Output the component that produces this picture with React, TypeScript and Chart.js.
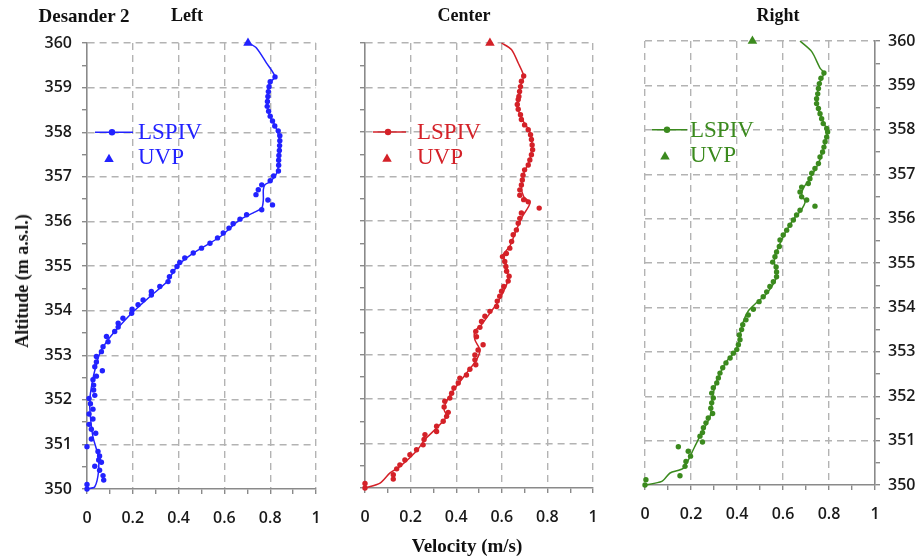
import React, { useEffect, useRef } from 'react';
import { Chart, registerables } from 'chart.js';

Chart.register(...registerables);

// ---------- DATA (velocity m/s, altitude m a.s.l.) ----------
// LEFT
const leftDotAlt = [359.24, 359.13, 359.02, 358.91, 358.8, 358.69, 358.58, 358.47, 358.36, 358.25, 358.14, 358.03, 357.92, 357.81, 357.7, 357.59, 357.48, 357.37, 357.26, 357.13, 357.02, 356.91, 356.82, 356.71, 356.6, 356.48, 356.37, 356.26, 356.15, 356.05, 355.95, 355.85, 355.74, 355.63, 355.51, 355.4, 355.29, 355.18, 355.08, 354.99, 354.88, 354.76, 354.65, 354.54, 354.43, 354.35, 354.24, 354.13, 354.03, 353.94, 353.83, 353.72, 353.63, 353.53, 353.42, 353.3, 353.19, 353.08, 352.97, 352.85, 352.74, 352.65, 352.53, 352.45, 352.33, 352.22, 352.1, 352.03, 351.91, 351.79, 351.68, 351.57, 351.45, 351.34, 351.25, 351.12, 350.95, 350.84, 350.74, 350.65, 350.6, 350.51, 350.42, 350.3, 350.2, 350.1, 350.0];
const leftDotV = [0.821, 0.8, 0.795, 0.792, 0.79, 0.788, 0.787, 0.793, 0.8, 0.81, 0.82, 0.835, 0.842, 0.842, 0.841, 0.84, 0.838, 0.837, 0.837, 0.836, 0.815, 0.8, 0.763, 0.748, 0.738, 0.79, 0.81, 0.763, 0.697, 0.668, 0.638, 0.62, 0.595, 0.57, 0.537, 0.5, 0.464, 0.427, 0.405, 0.393, 0.375, 0.36, 0.354, 0.318, 0.281, 0.281, 0.245, 0.223, 0.197, 0.195, 0.157, 0.136, 0.136, 0.121, 0.085, 0.092, 0.07, 0.063, 0.041, 0.041, 0.034, 0.067, 0.041, 0.026, 0.029, 0.029, 0.034, 0.009, 0.015, 0.026, 0.009, 0.026, 0.009, 0.019, 0.038, 0.019, 0.0, 0.048, 0.055, 0.051, 0.063, 0.034, 0.055, 0.07, 0.073, 0.0, 0.0];
const leftLineAlt = [360, 359.89, 359.55, 359.24, 359.1, 358.66, 358.38, 358.2, 358.02, 357.84, 357.4, 357.08, 356.89, 356.82, 356.71, 356.48, 356.3, 356.19, 356.04, 355.65, 355.29, 354.99, 354.65, 354.31, 353.94, 353.57, 353.3, 353.04, 352.74, 352.37, 351.99, 351.62, 351.17, 350.76, 350.42, 350.05, 350];
const leftLineV = [0.707, 0.74, 0.784, 0.821, 0.797, 0.787, 0.797, 0.816, 0.831, 0.84, 0.84, 0.828, 0.8, 0.777, 0.77, 0.77, 0.763, 0.726, 0.668, 0.58, 0.464, 0.393, 0.35, 0.274, 0.195, 0.128, 0.085, 0.056, 0.038, 0.022, 0.012, 0.015, 0.026, 0.048, 0.051, 0.034, 0];
const leftUvpAlt = [360];
const leftUvpV = [0.703];

// CENTER
const centerDotAlt = [359.26, 359.14, 359.02, 358.91, 358.8, 358.73, 358.62, 358.51, 358.39, 358.28, 358.16, 358.05, 357.94, 357.83, 357.71, 357.6, 357.49, 357.37, 357.26, 357.15, 357.03, 356.92, 356.81, 356.7, 356.58, 356.48, 356.43, 356.29, 356.18, 356.06, 355.95, 355.8, 355.69, 355.54, 355.39, 355.27, 355.2, 355.09, 354.98, 354.87, 354.76, 354.65, 354.53, 354.42, 354.31, 354.2, 354.08, 353.97, 353.86, 353.74, 353.61, 353.52, 353.4, 353.22, 353.1, 352.99, 352.88, 352.77, 352.67, 352.54, 352.47, 352.36, 352.25, 352.13, 352.02, 351.95, 351.82, 351.7, 351.61, 351.5, 351.39, 351.27, 351.2, 351.09, 350.97, 350.86, 350.75, 350.63, 350.52, 350.43, 350.3, 350.2, 350.1, 350.0];
const centerDotV = [0.696, 0.686, 0.682, 0.678, 0.675, 0.672, 0.668, 0.672, 0.682, 0.686, 0.7, 0.716, 0.726, 0.73, 0.733, 0.735, 0.73, 0.723, 0.716, 0.7, 0.693, 0.69, 0.686, 0.679, 0.679, 0.696, 0.716, 0.764, 0.686, 0.679, 0.672, 0.664, 0.65, 0.643, 0.635, 0.62, 0.603, 0.613, 0.618, 0.621, 0.632, 0.628, 0.609, 0.599, 0.591, 0.58, 0.577, 0.548, 0.526, 0.511, 0.504, 0.486, 0.489, 0.518, 0.496, 0.482, 0.482, 0.486, 0.46, 0.445, 0.416, 0.409, 0.39, 0.38, 0.372, 0.35, 0.347, 0.365, 0.358, 0.343, 0.314, 0.314, 0.263, 0.259, 0.255, 0.226, 0.197, 0.175, 0.153, 0.139, 0.124, 0.124, 0.0, 0.0];
const centerLineAlt = [360, 359.85, 359.55, 359.26, 359.1, 358.8, 358.51, 358.28, 358.0, 357.7, 357.37, 357.07, 356.77, 356.55, 356.4, 356.1, 355.8, 355.43, 355.24, 355.05, 354.75, 354.57, 354.2, 353.93, 353.67, 353.52, 353.33, 353.1, 352.88, 352.58, 352.28, 351.95, 351.76, 351.61, 351.35, 351.09, 350.83, 350.48, 350.34, 350.11, 350];
const centerLineV = [0.599, 0.643, 0.672, 0.696, 0.686, 0.676, 0.672, 0.69, 0.723, 0.733, 0.723, 0.696, 0.686, 0.696, 0.723, 0.69, 0.664, 0.635, 0.606, 0.618, 0.628, 0.621, 0.585, 0.548, 0.511, 0.482, 0.482, 0.504, 0.489, 0.445, 0.4, 0.358, 0.347, 0.358, 0.314, 0.263, 0.226, 0.153, 0.11, 0.066, 0];
const centerUvpAlt = [360];
const centerUvpV = [0.548];

// RIGHT
const rightDotAlt = [359.28, 359.16, 359.04, 358.93, 358.81, 358.7, 358.59, 358.48, 358.36, 358.25, 358.14, 358.03, 357.95, 357.84, 357.73, 357.61, 357.5, 357.39, 357.24, 357.13, 357.02, 356.9, 356.79, 356.71, 356.6, 356.49, 356.42, 356.28, 356.19, 356.08, 355.97, 355.85, 355.74, 355.63, 355.52, 355.37, 355.25, 355.14, 355.02, 354.91, 354.8, 354.69, 354.58, 354.47, 354.35, 354.24, 354.13, 353.96, 353.83, 353.72, 353.61, 353.5, 353.38, 353.27, 353.16, 353.05, 352.97, 352.86, 352.75, 352.64, 352.52, 352.41, 352.3, 352.19, 352.07, 351.96, 351.85, 351.73, 351.61, 351.51, 351.4, 351.29, 351.18, 351.1, 350.97, 350.86, 350.76, 350.65, 350.53, 350.42, 350.21, 350.12, 350.0];
const rightDotV = [0.778, 0.765, 0.758, 0.754, 0.751, 0.746, 0.746, 0.754, 0.761, 0.768, 0.775, 0.79, 0.794, 0.79, 0.783, 0.778, 0.772, 0.761, 0.754, 0.739, 0.725, 0.717, 0.71, 0.681, 0.674, 0.681, 0.703, 0.739, 0.674, 0.659, 0.645, 0.63, 0.616, 0.601, 0.587, 0.584, 0.572, 0.565, 0.555, 0.57, 0.572, 0.572, 0.558, 0.543, 0.529, 0.514, 0.496, 0.471, 0.449, 0.439, 0.425, 0.42, 0.41, 0.413, 0.406, 0.399, 0.384, 0.37, 0.352, 0.338, 0.326, 0.319, 0.312, 0.297, 0.29, 0.297, 0.29, 0.286, 0.294, 0.275, 0.265, 0.254, 0.25, 0.239, 0.25, 0.145, 0.188, 0.198, 0.178, 0.174, 0.152, 0.004, 0.0];
const rightLineAlt = [360, 359.76, 359.39, 359.28, 359.04, 358.74, 358.44, 358.18, 357.95, 357.55, 357.24, 356.9, 356.71, 356.56, 356.37, 356.15, 356.08, 355.74, 355.44, 355.06, 354.69, 354.31, 354.11, 353.92, 353.69, 353.39, 353.05, 352.79, 352.34, 352.0, 351.55, 351.1, 350.85, 350.38, 350.27, 350.08, 350];
const rightLineV = [0.674, 0.725, 0.761, 0.778, 0.758, 0.749, 0.754, 0.775, 0.793, 0.775, 0.754, 0.717, 0.691, 0.681, 0.696, 0.674, 0.659, 0.616, 0.587, 0.562, 0.572, 0.529, 0.486, 0.449, 0.428, 0.413, 0.399, 0.355, 0.312, 0.294, 0.283, 0.239, 0.215, 0.167, 0.109, 0.073, 0];
const rightUvpAlt = [360];
const rightUvpV = [0.467];

// ticks
const yMin = 350;
const yMax = 360;
const xMin = 0;
const xMax = 1;

// ---------- STYLE ----------
const GRID = '#b3b3b3';
const AXIS = '#8a8a8a';
const TICKFONT = { family: '"Open Sans", "Noto Sans", sans-serif', size: 16, weight: '600' as const };
const SERIF = '"Liberation Serif", "Times New Roman", serif';

type PanelCfg = {
  color: string;
  lineV: number[]; lineAlt: number[];
  dotV: number[]; dotAlt: number[];
  uvpV: number[]; uvpAlt: number[];
  padding: { left: number; right: number; top: number; bottom: number };
  yWidth: number; xHeight: number;
  yPos: 'left' | 'right';
  yLabels: boolean;
  xGridAt: (i: number) => boolean;
  legend: { lineStart: number; lineEnd: number; dot: number; tri: number; text: number; dy: number };
};

const zip = (v: number[], a: number[]) => a.map((alt, i) => ({ x: v[i], y: alt }));

function legendPlugin(cfg: PanelCfg) {
  return {
    id: 'customLegend',
    afterDatasetsDraw(chart: any) {
      const ctx = chart.ctx as CanvasRenderingContext2D;
      const L = chart.chartArea.left;
      const lg = cfg.legend;
      const y1 = chart.scales.y.getPixelForValue(358) + lg.dy;
      const y2 = y1 + 26;
      ctx.save();
      ctx.strokeStyle = cfg.color;
      ctx.fillStyle = cfg.color;
      ctx.lineWidth = 1.5;
      ctx.beginPath();
      ctx.moveTo(L + lg.lineStart, y1);
      ctx.lineTo(L + lg.lineEnd, y1);
      ctx.stroke();
      ctx.beginPath();
      ctx.arc(L + lg.dot, y1, 3.2, 0, Math.PI * 2);
      ctx.fill();
      const r = 5.5;
      const tx = L + lg.tri;
      ctx.beginPath();
      for (let k = 0; k < 3; k++) {
        const ang = (k * 2 * Math.PI) / 3;
        const px = tx + Math.sin(ang) * r;
        const py = y2 + 1 - Math.cos(ang) * r;
        if (k === 0) ctx.moveTo(px, py); else ctx.lineTo(px, py);
      }
      ctx.closePath();
      ctx.fill();
      ctx.font = `23px ${SERIF}`;
      ctx.textBaseline = 'middle';
      ctx.textAlign = 'left';
      ctx.fillText('LSPIV', L + lg.text, y1 + 1);
      ctx.fillText('UVP', L + lg.text, y2);
      ctx.restore();
    },
  };
}

function makeChart(canvas: HTMLCanvasElement, cfg: PanelCfg) {
  return new Chart(canvas, {
    type: 'scatter',
    data: {
      datasets: [
        {
          type: 'line',
          data: zip(cfg.lineV, cfg.lineAlt),
          borderColor: cfg.color,
          borderWidth: 1.5,
          pointRadius: 0,
          tension: 0.25,
          fill: false,
          clip: false as any,
        } as any,
        {
          data: zip(cfg.dotV, cfg.dotAlt),
          backgroundColor: cfg.color,
          borderColor: cfg.color,
          borderWidth: 0,
          pointRadius: 2.7,
          showLine: false,
          clip: false as any,
        },
        {
          data: zip(cfg.uvpV, cfg.uvpAlt),
          backgroundColor: cfg.color,
          borderColor: cfg.color,
          borderWidth: 0,
          pointStyle: 'triangle',
          pointRadius: 5.5,
          showLine: false,
          clip: false as any,
        },
      ],
    },
    options: {
      responsive: false,
      animation: false,
      devicePixelRatio: 1,
      events: [],
      layout: { padding: cfg.padding },
      plugins: { legend: { display: false }, tooltip: { enabled: false }, title: { display: false } },
      scales: {
        x: {
          type: 'linear',
          position: 'bottom',
          min: xMin,
          max: xMax,
          afterFit: (s: any) => { s.height = cfg.xHeight; },
          ticks: {
            stepSize: 0.1,
            autoSkip: false,
            maxRotation: 0,
            padding: 15,
            color: '#1a1a1a',
            font: TICKFONT,
            callback: (v: any) => {
              const i = Math.round(Number(v) * 10);
              return i % 2 === 0 ? String(i / 10) : '';
            },
          },
          grid: {
            color: (c: any) => {
              const i = Math.round(Number(c.tick?.value) * 10);
              return cfg.xGridAt(i) ? GRID : 'rgba(0,0,0,0)';
            },
            lineWidth: 1.4,
            tickColor: AXIS,
            tickLength: 5,
            tickWidth: 1.4,
          },
          border: { display: true, color: AXIS, width: 1.6, dash: [7, 5] },
        },
        y: {
          type: 'linear',
          position: cfg.yPos,
          min: yMin,
          max: yMax,
          afterFit: (s: any) => { s.width = cfg.yWidth; },
          ticks: {
            display: cfg.yLabels,
            stepSize: 0.5,
            autoSkip: false,
            padding: cfg.yPos === 'left' ? 10 : 8,
            color: '#1a1a1a',
            font: TICKFONT,
            callback: (v: any) => (Number.isInteger(Number(v)) ? String(v) : ''),
          },
          grid: {
            color: (c: any) => {
              const v = Number(c.tick?.value);
              return Number.isInteger(v) && v > yMin ? GRID : 'rgba(0,0,0,0)';
            },
            lineWidth: 1.4,
            tickColor: AXIS,
            tickLength: 5,
            tickWidth: 1.4,
          },
          border: { display: true, color: AXIS, width: 1.6, dash: [7, 5] },
        },
      },
    } as any,
    plugins: [legendPlugin(cfg)],
  });
}

const panels: PanelCfg[] = [
  {
    color: '#2222ff',
    lineV: leftLineV, lineAlt: leftLineAlt, dotV: leftDotV, dotAlt: leftDotAlt, uvpV: leftUvpV, uvpAlt: leftUvpAlt,
    padding: { left: 0, right: 603, top: 43, bottom: 0 },
    yWidth: 87, xHeight: 70, yPos: 'left', yLabels: true,
    xGridAt: (i) => i % 2 === 0 && i > 0,
    legend: { lineStart: 8, lineEnd: 46, dot: 25, tri: 22, text: 51, dy: 0 },
  },
  {
    color: '#d42128',
    lineV: centerLineV, lineAlt: centerLineAlt, dotV: centerDotV, dotAlt: centerDotAlt, uvpV: centerUvpV, uvpAlt: centerUvpAlt,
    padding: { left: 300, right: 326, top: 43, bottom: 0 },
    yWidth: 65, xHeight: 71, yPos: 'left', yLabels: false,
    xGridAt: (i) => i % 2 === 0 && i > 0,
    legend: { lineStart: 8, lineEnd: 41, dot: 23, tri: 22, text: 52, dy: 0 },
  },
  {
    color: '#3b8a1e',
    lineV: rightLineV, lineAlt: rightLineAlt, dotV: rightDotV, dotAlt: rightDotAlt, uvpV: rightUvpV, uvpAlt: rightUvpAlt,
    padding: { left: 645, right: 0, top: 41, bottom: 0 },
    yWidth: 44, xHeight: 74, yPos: 'right', yLabels: true,
    xGridAt: (i) => i % 2 === 0 && i < 10,
    legend: { lineStart: 7, lineEnd: 42, dot: 22, tri: 20, text: 45, dy: 0 },
  },
];

const titleStyle = (extra: React.CSSProperties): React.CSSProperties => ({
  position: 'absolute',
  fontFamily: SERIF,
  fontWeight: 'bold',
  fontSize: 18,
  lineHeight: 1,
  whiteSpace: 'nowrap',
  color: '#111',
  ...extra,
});

export default function App() {
  const r1 = useRef<HTMLCanvasElement>(null);
  const r2 = useRef<HTMLCanvasElement>(null);
  const r3 = useRef<HTMLCanvasElement>(null);

  useEffect(() => {
    const refs = [r1, r2, r3];
    const charts = refs.map((r, i) => makeChart(r.current as HTMLCanvasElement, panels[i]));
    return () => charts.forEach((c) => c.destroy());
  }, []);

  const cv: React.CSSProperties = { position: 'absolute', left: 0, top: 0, width: 919, height: 559 };

  return (
    <div style={{ position: 'absolute', left: 0, top: 0, width: 919, height: 559, background: '#fff', overflow: 'hidden' }}>
      <canvas ref={r1} width={919} height={559} style={cv} />
      <canvas ref={r2} width={919} height={559} style={cv} />
      <canvas ref={r3} width={919} height={559} style={cv} />
      <div style={titleStyle({ left: 84, top: 15, fontSize: 19, transform: 'translate(-50%, -50%)' })}>Desander 2</div>
      <div style={titleStyle({ left: 187, top: 15, transform: 'translate(-50%, -50%)' })}>Left</div>
      <div style={titleStyle({ left: 464, top: 15, transform: 'translate(-50%, -50%)' })}>Center</div>
      <div style={titleStyle({ left: 778, top: 15, transform: 'translate(-50%, -50%)' })}>Right</div>
      <div style={titleStyle({ left: 467, top: 545, fontSize: 19, transform: 'translate(-50%, -50%)' })}>Velocity (m/s)</div>
      <div style={titleStyle({ left: 22, top: 281, fontSize: 18, transform: 'translate(-50%, -50%) rotate(-90deg)' })}>Altitude (m a.s.l.)</div>
    </div>
  );
}
